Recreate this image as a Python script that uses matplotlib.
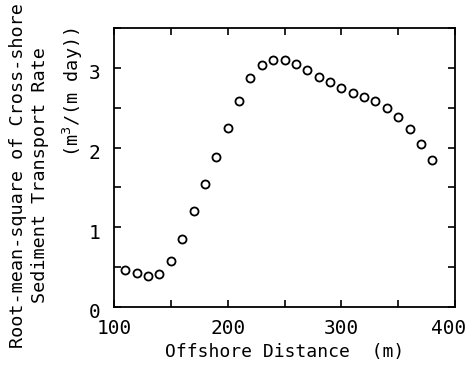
import matplotlib
matplotlib.use("Agg")
import matplotlib.pyplot as plt
import matplotlib.transforms as mtransforms
from matplotlib.ticker import MultipleLocator

offshore_distance = [110, 120, 130, 140, 150, 160, 170, 180, 190, 200,
                     210, 220, 230, 240, 250, 260, 270, 280, 290, 300,
                     310, 320, 330, 340, 350, 360, 370, 380]
rms_transport = [0.46, 0.43, 0.39, 0.42, 0.575, 0.85, 1.20, 1.54, 1.88, 2.25,
                 2.59, 2.87, 3.04, 3.10, 3.10, 3.05, 2.97, 2.89, 2.82, 2.75,
                 2.69, 2.63, 2.58, 2.50, 2.38, 2.23, 2.05, 1.84]
x_ticks = [100, 200, 300, 400]
y_ticks = [0, 1, 2, 3]

plt.rcParams['font.family'] = ['DejaVu Sans Mono']

fig = plt.figure(figsize=(4.7, 3.69), dpi=100)
ax = fig.add_axes([114/470, 1 - 307/369, (455 - 114)/470, (307 - 28)/369])

ax.plot(offshore_distance, rms_transport, linestyle='none', marker='o',
        markersize=5.8, markerfacecolor='none', markeredgecolor='black',
        markeredgewidth=1.3)

ax.set_xlim(100, 400)
ax.set_ylim(0, 3.5)
ax.set_xticks(x_ticks)
ax.set_yticks(y_ticks)
ax.xaxis.set_minor_locator(MultipleLocator(50))
ax.yaxis.set_minor_locator(MultipleLocator(0.5))
ax.tick_params(which='both', direction='in', top=True, right=True,
               length=5, width=1.2, labelsize=14)
ax.tick_params(axis='x', pad=9)
ax.tick_params(axis='y', pad=10)
for s in ax.spines.values():
    s.set_linewidth(1.3)

shift = mtransforms.ScaledTranslation(0, -4/100, fig.dpi_scale_trans)
for lab in ax.get_yticklabels():
    lab.set_transform(lab.get_transform() + shift)
last = ax.get_xticklabels()[-1]
last.set_transform(last.get_transform() +
                   mtransforms.ScaledTranslation(-6/100, 0, fig.dpi_scale_trans))

ax.set_xlabel('Offshore Distance  (m)', fontsize=13, labelpad=3)
fig.text(0.062, 1 - 175.5/369, 'Root-mean-square of Cross-shore\nSediment Transport Rate',
         rotation=90, ha='center', va='center', fontsize=13.3, linespacing=1.3)
fig.text(0.156, 1 - 92/369, '(m$^3$/(m day))', rotation=90, ha='center', va='center',
         fontsize=13.3)

fig.savefig('out.png', dpi=100)
